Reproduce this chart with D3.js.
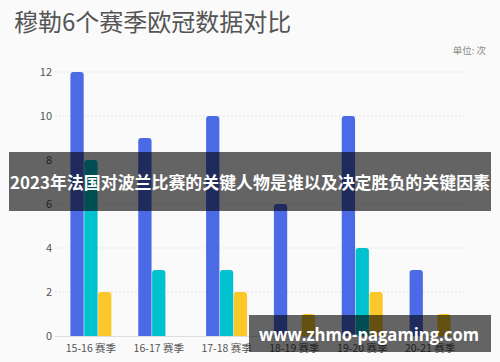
<!DOCTYPE html>
<html>
<head>
<meta charset="utf-8">
<script src="https://cdn.jsdelivr.net/npm/d3@7"></script>
<style>
  body { margin: 0; background: #fafafa; }
  svg { display: block; font-family: "Noto Sans CJK SC", "Noto Sans", sans-serif; }
</style>
</head>
<body>
<div id="canvas"></div>
<script>
var seasons = ['15-16 赛季','16-17 赛季','17-18 赛季','18-19 赛季','19-20 赛季','20-21 赛季'];
var seriesA = [12, 9, 10, 6, 10, 3];   // blue
var seriesB = [8, 3, 3, 0, 4, 0];      // cyan
var seriesC = [2, 0, 2, 1, 2, 1];      // yellow
var yTicks = [0, 2, 4, 6, 8, 10, 12];
var colors = ['#4b6be6', '#00c2cf', '#fbc82b'];

var W = 500, H = 362;
var svg = d3.select('#canvas').append('svg')
    .attr('width', W).attr('height', H);

svg.append('rect').attr('width', W).attr('height', H).attr('fill', '#fafafa');

// title
svg.append('text').attr('x', 14).attr('y', 31)
    .attr('font-size', 24).attr('fill', '#555')
    .text('穆勒6个赛季欧冠数据对比');
svg.append('text').attr('x', 486).attr('y', 54)
    .attr('text-anchor', 'end').attr('font-size', 9.5).attr('fill', '#888')
    .text('单位: 次');

var x = d3.scaleBand().domain(seasons).range([57, 464]);
var y = d3.scaleLinear().domain([0, 12]).range([336, 72]);
var keys = [0, 1, 2];
var xInner = d3.scaleBand().domain(keys).range([0, 41]).paddingInner(0.04);
var all = [seriesA, seriesB, seriesC];

// grid
svg.append('g').selectAll('line').data(yTicks.filter(function(d){ return d > 0; }))
    .enter().append('line')
    .attr('x1', 55).attr('x2', 464)
    .attr('y1', function(d){ return y(d); }).attr('y2', function(d){ return y(d); })
    .attr('stroke', '#ddd').attr('stroke-dasharray', '1.5,2.5');

// y labels
svg.append('g').selectAll('text').data(yTicks).enter().append('text')
    .attr('x', 52).attr('y', function(d){ return y(d) + 4; })
    .attr('text-anchor', 'end').attr('font-size', 11).attr('fill', '#555')
    .text(function(d){ return d; });

// baseline
svg.append('line').attr('x1', 55).attr('x2', 464).attr('y1', 336.5).attr('y2', 336.5)
    .attr('stroke', '#ddd').attr('stroke-width', 1);

// bars
function barPath(x0, w, y0, y1) {
    var r = Math.min(3, (y1 - y0), w / 2);
    if (y1 - y0 <= 0) return '';
    return 'M' + x0 + ',' + y1 + 'V' + (y0 + r) +
        'Q' + x0 + ',' + y0 + ' ' + (x0 + r) + ',' + y0 +
        'H' + (x0 + w - r) +
        'Q' + (x0 + w) + ',' + y0 + ' ' + (x0 + w) + ',' + (y0 + r) +
        'V' + y1 + 'Z';
}
var groups = svg.append('g').selectAll('g').data(seasons).enter().append('g')
    .attr('transform', function(d){ return 'translate(' + (x(d) + x.bandwidth() / 2 - 20.5) + ',0)'; });
groups.selectAll('path').data(function(d, i){
        return keys.map(function(k){ return {k: k, v: all[k][i]}; });
    }).enter().append('path')
    .attr('d', function(d){ return barPath(xInner(d.k), xInner.bandwidth(), y(d.v), y(0)); })
    .attr('fill', function(d){ return colors[d.k]; });

// x labels
svg.append('g').selectAll('text').data(seasons).enter().append('text')
    .attr('x', function(d){ return x(d) + x.bandwidth() / 2; })
    .attr('y', 352).attr('text-anchor', 'middle')
    .attr('font-size', 10.5).attr('fill', '#555')
    .text(function(d){ return d; });

// overlay banner
svg.append('rect').attr('x', 9).attr('y', 152).attr('width', 482).attr('height', 59)
    .attr('fill', '#000').attr('fill-opacity', 0.6);
svg.append('text').attr('x', 250).attr('y', 189).attr('text-anchor', 'middle')
    .attr('font-size', 17).attr('font-weight', 'bold').attr('fill', '#fff')
    .attr('textLength', 480).attr('lengthAdjust', 'spacingAndGlyphs')
    .text('2023年法国对波兰比赛的关键人物是谁以及决定胜负的关键因素');

// watermark
svg.append('rect').attr('x', 249).attr('y', 315).attr('width', 242).attr('height', 37)
    .attr('fill', '#000').attr('fill-opacity', 0.6);
svg.append('text').attr('x', 369).attr('y', 341).attr('text-anchor', 'middle')
    .attr('font-size', 18).attr('font-weight', 'bold').attr('fill', '#fff')
    .attr('font-family', '"Open Sans", "Noto Sans", sans-serif')
    .attr('textLength', 220).attr('lengthAdjust', 'spacingAndGlyphs')
    .text('www.zhmo-pagaming.com');
</script>
</body>
</html>
